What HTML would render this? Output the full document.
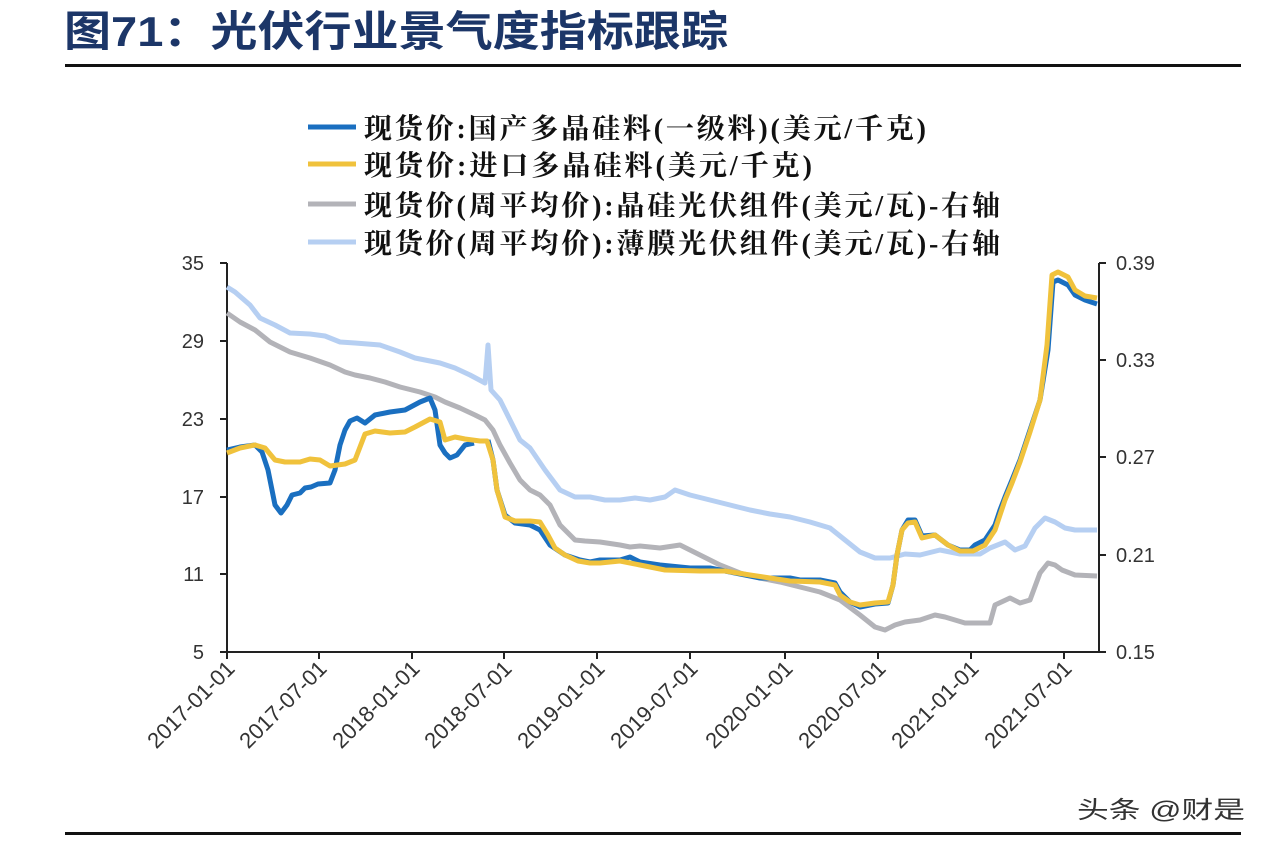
<!DOCTYPE html>
<html><head><meta charset="utf-8"><style>
body{margin:0;background:#fff;}
</style></head><body>
<svg width="1270" height="852" xmlns="http://www.w3.org/2000/svg" style="display:block">
<rect width="1270" height="852" fill="#fff"/>
<text x="64" y="46" textLength="664" lengthAdjust="spacingAndGlyphs" font-family="Liberation Sans, Noto Sans CJK SC, sans-serif" font-weight="bold" font-size="42" fill="#1c3668">图71：光伏行业景气度指标跟踪</text>
<rect x="65" y="64" width="1176" height="3" fill="#111"/>
<rect x="65" y="832" width="1176" height="3" fill="#111"/>
<g font-family="Liberation Serif, Noto Serif CJK SC, serif" font-weight="bold" font-size="28" fill="#111" lengthAdjust="spacingAndGlyphs">
<line x1="308" y1="127" x2="356" y2="127" stroke="#1a6fc0" stroke-width="5"/>
<text x="364" y="138" textLength="562">现货价:国产多晶硅料(一级料)(美元/千克)</text>
<line x1="308" y1="164" x2="356" y2="164" stroke="#f0c23c" stroke-width="5"/>
<text x="364" y="175" textLength="448">现货价:进口多晶硅料(美元/千克)</text>
<line x1="308" y1="204" x2="356" y2="204" stroke="#b3b3b8" stroke-width="5"/>
<text x="364" y="215" textLength="636">现货价(周平均价):晶硅光伏组件(美元/瓦)-右轴</text>
<line x1="308" y1="242" x2="356" y2="242" stroke="#b6cff2" stroke-width="5"/>
<text x="364" y="253" textLength="636">现货价(周平均价):薄膜光伏组件(美元/瓦)-右轴</text>
</g>
<g stroke="#222" stroke-width="2" fill="none">
<path d="M227 263V652H1099V263"/>
<path d="M220 263H227M220 341H227M220 419H227M220 497H227M220 574H227M220 652H227"/>
<path d="M1099 263H1106M1099 360H1106M1099 457H1106M1099 555H1106M1099 652H1106"/>
<path d="M227 652V659M319 652V659M412 652V659M504 652V659M597 652V659M690 652V659M785 652V659M878 652V659M971 652V659M1064 652V659"/>
</g>
<g font-family="Liberation Sans, sans-serif" font-size="20" fill="#333" text-anchor="end">
<text x="204" y="270">35</text><text x="204" y="348">29</text><text x="204" y="426">23</text><text x="204" y="504">17</text><text x="204" y="581">11</text><text x="204" y="659">5</text>
</g>
<g font-family="Liberation Sans, sans-serif" font-size="20" fill="#333">
<text x="1116" y="270">0.39</text><text x="1116" y="367">0.33</text><text x="1116" y="464">0.27</text><text x="1116" y="562">0.21</text><text x="1116" y="659">0.15</text>
</g>
<g font-family="Liberation Sans, sans-serif" font-size="22" fill="#333" text-anchor="end">
<text transform="translate(236,670) rotate(-45)">2017-01-01</text>
<text transform="translate(328,670) rotate(-45)">2017-07-01</text>
<text transform="translate(421,670) rotate(-45)">2018-01-01</text>
<text transform="translate(513,670) rotate(-45)">2018-07-01</text>
<text transform="translate(606,670) rotate(-45)">2019-01-01</text>
<text transform="translate(699,670) rotate(-45)">2019-07-01</text>
<text transform="translate(794,670) rotate(-45)">2020-01-01</text>
<text transform="translate(887,670) rotate(-45)">2020-07-01</text>
<text transform="translate(980,670) rotate(-45)">2021-01-01</text>
<text transform="translate(1073,670) rotate(-45)">2021-07-01</text>
</g>
<g fill="none" stroke-width="5" stroke-linejoin="round">
<polyline stroke="#b6cff2" points="227,287 235,292 250,305 260,318 275,325 290,333 310,334 325,336 340,342 355,343 380,345 400,352 415,358 440,363 455,368 470,375 485,383 488,345 491,390 500,400 510,420 520,440 530,448 545,470 560,490 575,497 590,497 605,500 620,500 635,498 650,500 665,497 675,490 690,495 710,500 730,505 750,510 770,514 790,517 810,522 830,528 845,540 860,552 875,558 890,558 905,554 920,555 940,550 960,554 980,554 990,548 1005,542 1015,550 1025,546 1035,528 1045,518 1055,522 1065,528 1075,530 1097,530"/>
<polyline stroke="#b3b3b8" points="227,313 240,322 255,330 270,342 290,352 310,358 330,365 345,372 355,375 370,378 385,382 400,387 420,392 435,397 445,402 460,408 475,415 485,420 493,430 500,445 510,463 520,480 530,490 540,495 550,505 560,525 575,540 585,541 600,542 620,545 630,547 640,546 660,548 680,545 700,555 720,565 740,573 760,578 780,582 800,587 820,592 840,600 860,615 875,627 885,630 895,625 905,622 920,620 935,615 945,617 955,620 965,623 990,623 995,605 1010,598 1020,603 1030,600 1040,573 1048,563 1055,565 1062,570 1075,575 1097,576"/>
<polyline stroke="#1a6fc0" points="227,450 240,447 255,445 262,452 268,470 275,505 281,513 287,505 292,495 300,493 305,488 311,487 318,484 330,483 335,470 340,445 345,430 350,421 357,418 365,423 375,415 390,412 405,410 420,402 430,398 435,410 440,445 445,453 450,458 457,455 465,445 474,443"/>
<polyline stroke="#1a6fc0" points="488,440 493,460 497,490 505,515 515,523 530,525 540,530 550,545 565,555 580,560 590,562 600,560 620,560 630,557 640,562 660,565 690,568 710,568 730,572 760,578 770,578 790,578 800,580 820,580 835,583 840,592 850,602 860,607 875,604 888,603 893,585 897,555 902,530 908,520 915,520 922,536 935,535 948,545 960,550 970,550 975,545 985,540 995,525 1000,510 1005,497 1012,480 1020,460 1030,430 1040,400 1048,350 1053,282 1058,280 1068,285 1075,295 1085,300 1097,304"/>
<polyline stroke="#f0c23c" points="227,453 240,448 255,445 265,448 275,460 285,462 300,462 310,459 320,460 330,466 345,464 355,460 365,434 375,431 390,433 405,432 415,427 430,419 440,422 445,440 455,437 465,439 480,441 487,441 493,460 497,490 505,517 515,521 530,521 540,522 548,535 555,548 565,555 578,561 590,563 600,563 620,561 640,565 665,570 700,571 725,571 750,575 770,578 790,581 820,582 835,585 840,595 850,602 860,605 875,603 888,602 893,585 897,555 902,530 908,523 915,522 922,538 935,535 948,545 960,551 973,551 985,545 995,530 1000,515 1005,500 1012,483 1020,462 1030,432 1040,400 1047,345 1052,275 1058,272 1068,277 1075,290 1085,296 1097,298"/>
</g>
<text x="1077" y="818" textLength="168" lengthAdjust="spacingAndGlyphs" font-family="Liberation Sans, Noto Sans CJK SC, sans-serif" font-size="24" fill="#333">头条 @财是</text>
</svg>
</body></html>
